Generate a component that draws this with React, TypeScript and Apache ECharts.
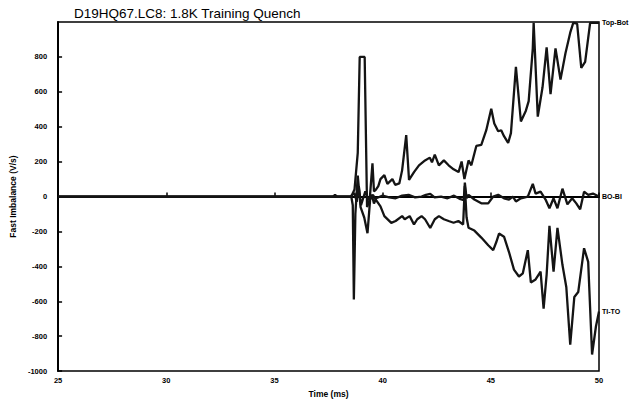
import React, { useEffect, useRef } from "react";
import * as echarts from "echarts";

// Quench record: fast imbalance signals vs time (ms)
const titleText = "D19HQ67.LC8: 1.8K Training Quench";
const xTicks = [25, 30, 35, 40, 45, 50];
const yTicks = [-1000, -800, -600, -400, -200, 0, 200, 400, 600, 800, 1000];

const topBotT = [25, 37.7, 37.8, 37.9, 38.55, 38.7, 38.85, 38.94, 39.17, 39.28, 39.4, 39.53, 39.6, 39.69, 39.8, 39.9, 40.08, 40.22, 40.45, 40.58, 40.77, 40.9, 41.09, 41.22, 41.45, 41.68, 41.96, 42.18, 42.28, 42.41, 42.6, 42.83, 43.05, 43.28, 43.51, 43.65, 43.78, 43.97, 44.1, 44.33, 44.56, 44.79, 45.02, 45.16, 45.34, 45.48, 45.61, 45.8, 45.93, 46.16, 46.39, 46.62, 46.75, 46.94, 46.98, 47.17, 47.39, 47.58, 47.76, 47.99, 48.22, 48.45, 48.67, 48.81, 48.99, 49.18, 49.36, 49.59, 49.91, 50];
const topBotV = [0, 0, 10, 0, 0, 40, 250, 800, 800, -60, -20, 190, 30, 40, 60, 100, 123, 73, 100, 67, 75, 150, 352, 95, 140, 179, 207, 223, 196, 240, 179, 207, 179, 156, 140, 201, 100, 207, 179, 290, 296, 380, 503, 419, 374, 380, 346, 307, 363, 743, 430, 492, 547, 849, 995, 458, 626, 855, 587, 849, 670, 821, 939, 995, 990, 737, 771, 995, 995, 995];

const boBiT = [25, 38.5, 38.7, 38.8, 38.9, 39.0, 39.2, 39.35, 39.5, 39.6, 39.7, 40.0, 40.3, 40.6, 40.9, 41.2, 41.5, 41.8, 42.0, 42.2, 42.4, 42.7, 43.0, 43.3, 43.6, 43.75, 43.8, 43.88, 43.97, 44.24, 44.56, 44.88, 45.11, 45.34, 45.61, 45.84, 46.02, 46.16, 46.39, 46.71, 46.94, 47.07, 47.3, 47.53, 47.71, 47.9, 48.08, 48.31, 48.54, 48.76, 48.95, 49.13, 49.31, 49.5, 49.72, 50];
const boBiV = [0, 0, 20, -30, 60, -50, 30, -20, 10, -40, -10, 5, -5, -10, 5, 10, -5, 0, 10, 15, -5, 0, -10, 5, -15, -20, 80, -10, 10, -17, -39, -39, 0, 10, -10, -17, 0, -28, -10, 0, 73, 17, 28, -17, -67, -10, -67, 45, -45, -10, -39, -73, 28, 10, 17, 0];

const tiToT = [25, 38.55, 38.62, 38.67, 38.74, 38.85, 38.98, 39.15, 39.3, 39.42, 39.55, 39.7, 39.9, 40.08, 40.4, 40.6, 40.9, 41.02, 41.25, 41.45, 41.6, 41.8, 41.96, 42.2, 42.41, 42.6, 42.83, 43.05, 43.28, 43.5, 43.72, 43.8, 43.88, 43.97, 44.24, 44.56, 44.88, 45.11, 45.25, 45.38, 45.61, 45.84, 46.07, 46.3, 46.48, 46.71, 46.85, 47.07, 47.3, 47.44, 47.58, 47.71, 47.9, 48.08, 48.31, 48.49, 48.67, 48.86, 49.04, 49.31, 49.5, 49.68, 49.86, 50];
const tiToV = [0, 0, -50, -590, -100, 120, -60, -120, -210, -20, 10, -20, -56, -112, -151, -140, -112, -130, -112, -160, -130, -112, -130, -180, -130, -112, -130, -140, -150, -140, -160, 60, -120, -179, -195, -235, -279, -307, -262, -212, -230, -318, -419, -458, -440, -307, -492, -475, -430, -642, -447, -168, -430, -179, -391, -520, -849, -575, -547, -296, -374, -905, -743, -659];

const seriesNames = ["Top-Bot", "BO-BI", "TI-TO"];

const pair = (t: number[], v: number[]) => t.map((x, i) => [x, v[i]]);

const FONT = "Liberation Sans";
const INK = "#000";

export default function App() {
  const ref = useRef<HTMLDivElement>(null);

  useEffect(() => {
    if (!ref.current) return;
    const chart = echarts.init(ref.current, undefined, { renderer: "svg" });
    const lineSeries = (name: string, data: number[][]) => ({
      name,
      type: "line",
      data,
      showSymbol: false,
      symbol: "none",
      clip: true,
      lineStyle: { color: "#141414", width: 2.3 },
      endLabel: {
        show: true,
        formatter: name,
        fontFamily: FONT,
        fontSize: 7,
        fontWeight: "bold",
        color: INK,
        distance: 3,
      },
    });
    const tickFmt = (v: number) => String(v);
    chart.setOption({
      animation: false,
      backgroundColor: "#fff",
      title: {
        text: titleText,
        left: 69,
        top: 1,
        textStyle: { fontFamily: FONT, fontSize: 13.5, fontWeight: "normal", color: INK },
      },
      grid: {
        left: 52,
        right: 36,
        top: 22,
        bottom: 24,
        show: true,
        borderColor: INK,
        borderWidth: 1.5,
        backgroundColor: "transparent",
      },
      xAxis: {
        type: "value",
        min: xTicks[0],
        max: xTicks[xTicks.length - 1],
        interval: 5,
        name: "Time (ms)",
        nameLocation: "middle",
        nameGap: 17,
        nameTextStyle: { fontFamily: FONT, fontSize: 8.5, fontWeight: "bold", color: INK },
        axisLine: { show: true, lineStyle: { color: INK, width: 2 } },
        axisTick: { show: true, inside: true, length: 4, lineStyle: { color: INK, width: 1.5 } },
        axisLabel: { fontFamily: FONT, fontSize: 7.5, fontWeight: "bold", color: INK, margin: 5, formatter: tickFmt },
        splitLine: { show: false },
      },
      yAxis: {
        type: "value",
        min: yTicks[0],
        max: yTicks[yTicks.length - 1],
        interval: 200,
        name: "Fast Imbalance (V/s)",
        nameLocation: "middle",
        nameGap: 38,
        nameTextStyle: { fontFamily: FONT, fontSize: 8.5, fontWeight: "bold", color: INK },
        axisLine: { show: true, lineStyle: { color: INK, width: 2 } },
        axisTick: { show: true, inside: true, length: 4, lineStyle: { color: INK, width: 1.5 } },
        axisLabel: {
          fontFamily: FONT,
          fontSize: 7.5,
          fontWeight: "bold",
          color: INK,
          margin: 11,
          showMaxLabel: false,
          formatter: tickFmt,
        },
        splitLine: { show: false },
      },
      series: [
        lineSeries(seriesNames[0], pair(topBotT, topBotV)),
        lineSeries(seriesNames[1], pair(boBiT, boBiV)),
        lineSeries(seriesNames[2], pair(tiToT, tiToV)),
      ],
    });
    return () => chart.dispose();
  }, []);

  return (
    <div
      ref={ref}
      style={{ position: "fixed", left: 0, top: 0, width: 635, height: 403, background: "#fff" }}
    />
  );
}
